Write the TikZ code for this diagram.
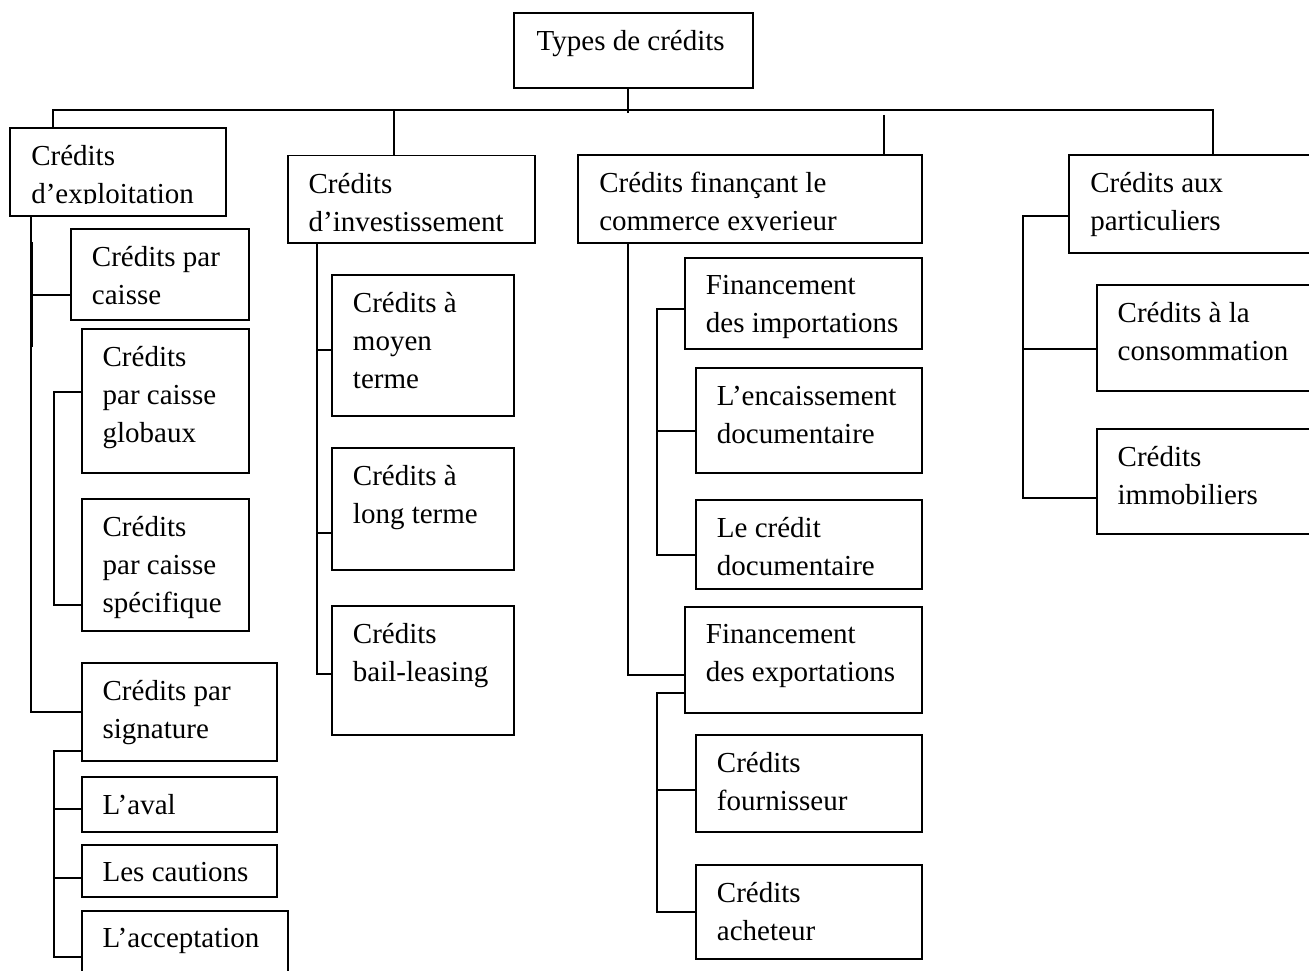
\documentclass[tikz,border=0pt]{standalone}
\usepackage{fontspec}
\setmainfont{Liberation Serif}

\tikzset{
  box/.style={draw, anchor=north west, inner sep=0pt},
  txt/.style={anchor=north west, align=left, inner sep=0pt, xshift=21pt, yshift=-17.5pt}
}

\begin{document}
\begin{tikzpicture}[x=1pt, y=-1pt, line width=1.9pt, font=\fontsize{29}{38}\selectfont]

   \useasboundingbox (0,0) rectangle (1309,971);

   % boites
   \node[box, minimum width=239, minimum height=75] (types) at (512.7,12.3) {};
   \node[txt, xshift=2pt] (types-t) at (types.north west) {Types de crédits};

   \node[box, minimum width=216, minimum height=88] (expl) at (9.3,127.3) {};
   \begin{scope}
     \clip (9.3,127.3) rectangle (225.3,203.3);
     \node[txt] (expl-t) at (expl.north west) {Crédits\\d'exploitation};
   \end{scope}
   \node[box, minimum width=178.3, minimum height=91.3] (cpc) at (70,227.7) {};
   \node[txt] (cpc-t) at (cpc.north west) {Crédits par\\caisse};
   \node[box, minimum width=167.6, minimum height=144.2] (glob) at (80.7,327.8) {};
   \node[txt] (glob-t) at (glob.north west) {Crédits\\par caisse\\globaux};
   \node[box, minimum width=167.6, minimum height=132.3] (spec) at (80.7,498) {};
   \node[txt] (spec-t) at (spec.north west) {Crédits\\par caisse\\spécifique};
   \node[box, minimum width=195, minimum height=98.4] (sig) at (80.7,661.6) {};
   \node[txt] (sig-t) at (sig.north west) {Crédits par\\signature};
   \node[box, minimum width=195, minimum height=54.3] (aval) at (80.7,776.3) {};
   \node[txt] (aval-t) at (aval.north west) {L'aval};
   \node[box, minimum width=195, minimum height=51.3] (caut) at (80.7,844.3) {};
   \node[txt] (caut-t) at (caut.north west) {Les cautions};
   \node[box, minimum width=206.6, minimum height=80] (accp) at (80.7,909.8) {};
   \node[txt] (accp-t) at (accp.north west) {L'acceptation};

   \node[box, minimum width=247.6, minimum height=87.2] (inv) at (286.7,154.6) {};
   \node[txt] (inv-t) at (inv.north west) {Crédits\\d'investissement};
   \node[box, minimum width=182.3, minimum height=141.4] (moy) at (331,273.8) {};
   \node[txt] (moy-t) at (moy.north west) {Crédits à\\moyen\\terme};
   \node[box, minimum width=182.3, minimum height=121.9] (long) at (331,447.3) {};
   \node[txt] (long-t) at (long.north west) {Crédits à\\long terme};
   \node[box, minimum width=182.3, minimum height=129.3] (bail) at (331,604.7) {};
   \node[txt] (bail-t) at (bail.north west) {Crédits\\bail-leasing};

   \node[box, minimum width=343.4, minimum height=88.3] (com) at (577.3,154) {};
   \begin{scope}
     \clip (577.3,154) rectangle (920.7,230.3);
     \node[txt] (com-t) at (com.north west) {Crédits finançant le\\commerce exyerieur};
   \end{scope}
   \node[box, minimum width=236.7, minimum height=91.6] (imp) at (684,256.7) {};
   \node[txt] (imp-t) at (imp.north west) {Financement\\des importations};
   \node[box, minimum width=225.7, minimum height=104.4] (enc) at (695,367.3) {};
   \node[txt] (enc-t) at (enc.north west) {L'encaissement\\documentaire};
   \node[box, minimum width=225.7, minimum height=89.3] (cdoc) at (695,499) {};
   \node[txt] (cdoc-t) at (cdoc.north west) {Le crédit\\documentaire};
   \node[box, minimum width=236.7, minimum height=106] (exp) at (684,605.7) {};
   \node[txt] (exp-t) at (exp.north west) {Financement\\des exportations};
   \node[box, minimum width=225.7, minimum height=96.4] (four) at (695,734.3) {};
   \node[txt] (four-t) at (four.north west) {Crédits\\fournisseur};
   \node[box, minimum width=225.7, minimum height=94] (ach) at (695,864.3) {};
   \node[txt] (ach-t) at (ach.north west) {Crédits\\acheteur};

   \node[box, minimum width=260, minimum height=98] (part) at (1068.3,154.3) {};
   \node[txt] (part-t) at (part.north west) {Crédits aux\\particuliers};
   \node[box, minimum width=240, minimum height=106] (cons) at (1095.7,284) {};
   \node[txt] (cons-t) at (cons.north west) {Crédits à la\\consommation};
   \node[box, minimum width=240, minimum height=104.4] (imm) at (1095.7,428.3) {};
   \node[txt] (imm-t) at (imm.north west) {Crédits\\immobiliers};

   % liaisons
   \coordinate (j0) at (627.7,113);
   \coordinate (j1) at (53,110);
   \coordinate (j2) at (394.3,110);
   \coordinate (j3) at (884.3,115);
   \coordinate (j4) at (1212.7,110);
   \draw (types.south -| j0) -- (j0);
   \draw (expl.north -| j1) -- (j1) -- (j4) -- (part.north -| j4);
   \draw (j2) -- (inv.north -| j2);
   \draw (j3) -- (com.north -| j3);

   \coordinate (c1) at (31,0);
   \coordinate (c1b) at (54,0);
   \coordinate (dbl) at (32.5,242);
   \draw (expl.south -| c1) |- (sig.west);
   \draw (dbl) -- ++(0,105);
   \draw ([yshift=-20.6]cpc.west) -- ([yshift=-20.6]cpc.west -| c1);
   \draw ([yshift=9.2]glob.west) -- ([yshift=9.2]glob.west -| c1b) |- ([yshift=-40]spec.west);
   \draw ([yshift=10.7]sig.south west) -- ([yshift=10.7]sig.south west -| c1b) |- ([yshift=-47]accp.north west);
   \draw ([yshift=-4.8]aval.west) -- ([yshift=-4.8]aval.west -| c1b);
   \draw ([yshift=-6.8]caut.west) -- ([yshift=-6.8]caut.west -| c1b);

   \coordinate (c2) at (316.7,0);
   \draw (inv.south -| c2) |- ([yshift=-3.4]bail.west);
   \draw ([yshift=-4.4]moy.west) -- ([yshift=-4.4]moy.west -| c2);
   \draw ([yshift=-23.6]long.west) -- ([yshift=-23.6]long.west -| c2);

   \coordinate (c3) at (628.3,0);
   \coordinate (c3b) at (657.3,0);
   \draw (com.south -| c3) |- ([yshift=-15.3]exp.west);
   \draw ([yshift=-5.2]imp.west) -- ([yshift=-5.2]imp.west -| c3b) |- ([yshift=-10.6]cdoc.west);
   \draw ([yshift=-10.5]enc.west) -- ([yshift=-10.5]enc.west -| c3b);
   \draw ([yshift=20.7]exp.south west) -- ([yshift=20.7]exp.south west -| c3b) |- (ach.west);
   \draw ([yshift=-6.8]four.west) -- ([yshift=-6.8]four.west -| c3b);

   \coordinate (c4) at (1022.7,0);
   \draw ([yshift=-11.7]part.west) -- ([yshift=-11.7]part.west -| c4) |- ([yshift=-16.8]imm.west);
   \draw ([yshift=-11.3]cons.west) -- ([yshift=-11.3]cons.west -| c4);

\end{tikzpicture}
\end{document}
